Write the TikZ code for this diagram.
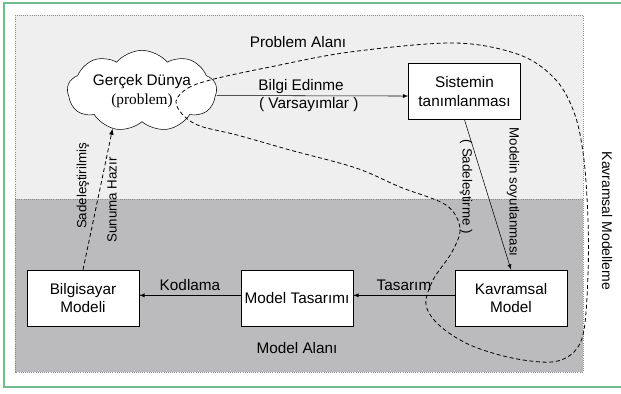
\documentclass[tikz,border=0pt]{standalone}
\usepackage{fontspec}
\setmainfont{Liberation Sans}
\newfontfamily\probfont{Liberation Serif}
\usetikzlibrary{shapes.symbols}
\definecolor{upperarea}{RGB}{239,239,239}
\definecolor{lowerarea}{RGB}{187,187,189}
\definecolor{framegreen}{RGB}{112,190,142}
\definecolor{areaedge}{RGB}{140,140,140}

\begin{document}
\begin{tikzpicture}[
    x=0.75pt, y=-0.75pt,
    font=\fontsize{11.5}{14.2}\selectfont,
    box/.style={draw, rectangle, fill=white, align=center, minimum width=84pt, minimum height=42pt, inner sep=2pt},
    cloudbox/.style={draw, cloud, cloud puffs=9, cloud puff arc=100, aspect=2.2, fill=white, align=center, minimum width=112pt, minimum height=50pt, inner sep=0pt},
    lbl/.style={inner sep=1pt},
    downlbl/.style={inner sep=1pt, rotate=-90, font=\fontsize{10}{12}\selectfont},
    uplbl/.style={inner sep=1pt, rotate=90, font=\fontsize{10}{12}\selectfont},
    arealine/.style={densely dotted, areaedge, line width=0.6pt},
    modelloop/.style={dash pattern=on 3pt off 2pt, line width=0.6pt},
    >=latex
]
    \useasboundingbox (0,0) rectangle (621,393);

    % Frame
    \draw[framegreen, line width=1.2pt] (621,3) -- (4,3) -- (4,387) -- (621,387);

    % Problem and model areas
    \fill[upperarea] (15,15) rectangle (583,199);
    \fill[lowerarea] (15,199) rectangle (583,372);
    \draw[arealine] (15,15) rectangle (583,372);
    \draw[arealine] (15,199) -- (583,199);

    \node[lbl] (problemarea) at (298,42) {Problem Alanı};
    \node[lbl] (modelarea) at (297,348) {Model Alanı};

    % Nodes
    \node[cloudbox] (world) at (142,91) {Gerçek Dünya\\{\probfont (problem)}};
    \node[box] (sys) at (464.5,91.5) {Sistemin\\tanımlanması};
    \node[box] (concept) at (511,298) {Kavramsal\\Model};
    \node[box] (design) at (297,298) {Model Tasarımı};
    \node[box] (computer) at (83,298) {Bilgisayar\\Modeli};

    % Conceptual modelling loop
    \draw[modelloop] plot[smooth cycle, tension=0.55] coordinates {
        (176,101) (188,88) (214,79) (270,67) (350,52) (455,43) (520,55)
        (556,80) (575,115) (584,160) (588,220) (588,275) (584,330)
        (574,352) (552,362) (512,358) (470,345) (440,326) (426,305)
        (433,280) (452,252) (460,228) (446,205) (400,187) (356,168)
        (290,150) (237,135) (200,126) (183,115)};

    % Arrows
    \draw[->] ([yshift=-3.4pt]world.east) -- ([yshift=-3.4pt]sys.west)
        node[lbl, pos=0.44, above] (gather) {Bilgi Edinme}
        node[lbl, pos=0.48, below] (assume) {( Varsayımlar )};
    \draw[->] (sys.south) -- (concept.north);
    \draw[->] ([yshift=2pt]concept.west) -- ([yshift=2pt]design.east)
        node[lbl, midway, above=2pt] (designlbl) {Tasarım};
    \draw[->] ([yshift=2pt]design.west) -- ([yshift=2pt]computer.east)
        node[lbl, midway, above=2pt] (codelbl) {Kodlama};
    \draw[->, modelloop] (computer.north) -- (world.232);

    % Rotated labels
    \node[downlbl] (abstract) at (513,192) {Modelin soyutlanması};
    \node[downlbl] (simplify) at (466,187) {( Sadeleştirme )};
    \node[downlbl, font=\fontsize{10.5}{12}\selectfont] (conceptual) at (607,221) {Kavramsal Modelleme};
    \node[uplbl] (simplified) at (83,186) {Sadeleştirilmiş};
    \node[uplbl] (ready) at (112,200) {Sunuma Hazır};
\end{tikzpicture}
\end{document}
